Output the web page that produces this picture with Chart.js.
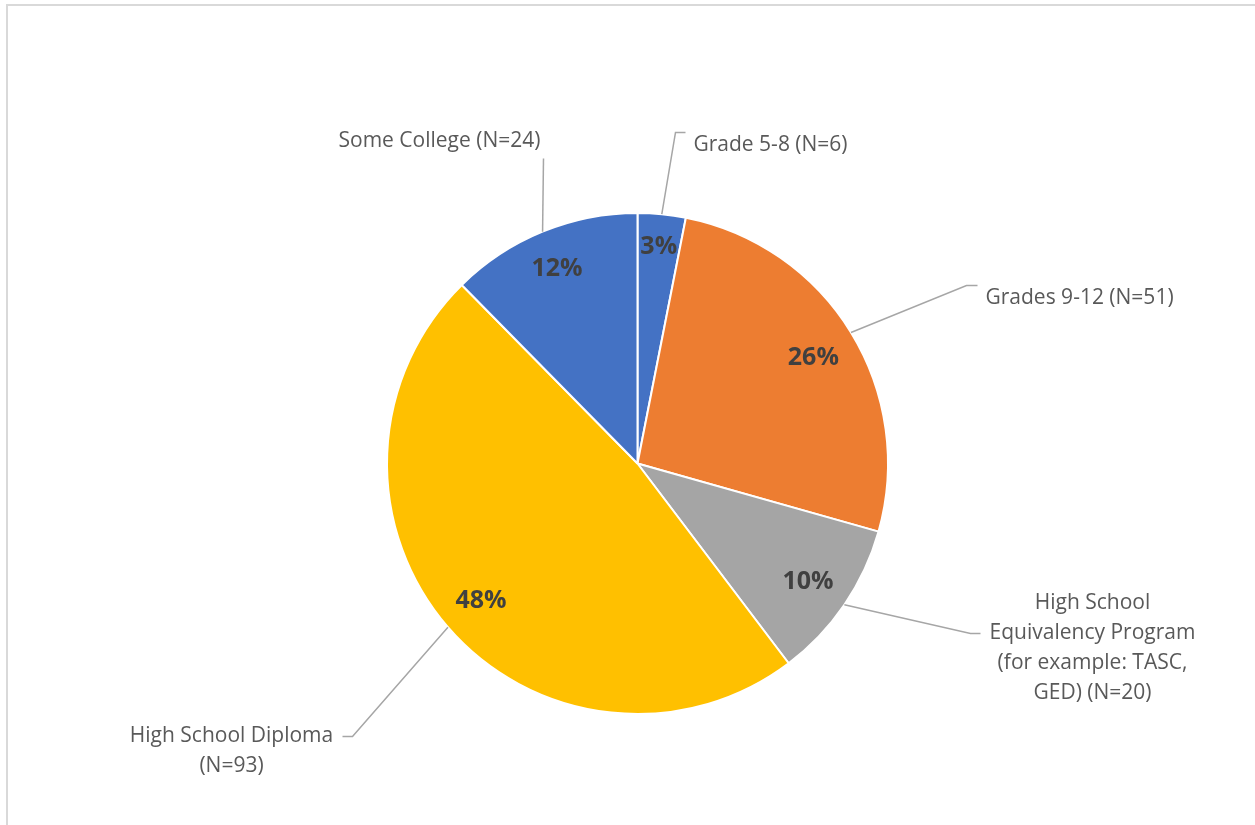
<!DOCTYPE html>
<html>
<head>
<meta charset="utf-8">
<title>Education level</title>
<script src="https://cdn.jsdelivr.net/npm/chart.js@4.4.1/dist/chart.umd.min.js"></script>
<style>
  html, body { margin: 0; padding: 0; background: #fff; overflow: hidden; }
  #wrap { position: relative; width: 1255px; height: 825px; }
  #frame {
    position: absolute; left: 6px; top: 4px; right: -10px; bottom: -10px;
    border-left: 2px solid #d9d9d9; border-top: 2px solid #d9d9d9;
  }
  canvas { position: absolute; left: 0; top: 0; }
</style>
</head>
<body>
<div id="wrap">
  <div id="frame"></div>
  <canvas id="pie" width="1255" height="825"></canvas>
</div>
<script>
const categories = ['Grade 5-8', 'Grades 9-12', 'High School Equivalency Program (for example: TASC, GED)', 'High School Diploma', 'Some College'];
const counts = [6, 51, 20, 93, 24];
const labelLines = [
  ['Grade 5-8 (N=6)'],
  ['Grades 9-12 (N=51)'],
  ['High School', 'Equivalency Program', '(for example: TASC,', 'GED) (N=20)'],
  ['High School Diploma', '(N=93)'],
  ['Some College (N=24)']
];
const sliceColors = ['#4472C4', '#ED7D31', '#A5A5A5', '#FFC000', '#4472C4'];

// where each outside label sits, relative to the pie centre:
// elbow = leader line bend points, text = anchor of first line
const calloutLayout = [
  { elbow: [[38, -331], [48, -331]], text: [56, -318], align: 'left' },
  { elbow: [[329, -178], [340, -178]], text: [348, -165], align: 'left' },
  { elbow: [[333, 170], [343, 170]], text: [455, 140], align: 'center' },
  { elbow: [[-285, 273], [-295, 273]], text: [-406, 273], align: 'center' },
  { elbow: [[-94, -305]], text: [-198, -322], align: 'center' }
];

const total = counts.reduce((a, b) => a + b, 0);

const pieLabels = {
  id: 'pieLabels',
  afterDatasetsDraw(chart) {
    const ctx = chart.ctx;
    const arcs = chart.getDatasetMeta(0).data;
    ctx.save();
    arcs.forEach((arc, i) => {
      const { x, y, startAngle, endAngle, outerRadius } = arc.getProps(['x', 'y', 'startAngle', 'endAngle', 'outerRadius'], true);
      const mid = (startAngle + endAngle) / 2;
      const ux = Math.cos(mid), uy = Math.sin(mid);

      // percentage pushed out until its box meets the rim (inside end)
      const pct = Math.round(counts[i] / total * 100) + '%';
      ctx.font = 'bold 25px "Open Sans"';
      const hw = ctx.measureText(pct).width / 2;
      const hh = 15;
      const r = outerRadius - 14.5 - (Math.abs(ux) * hw + Math.abs(uy) * hh);
      ctx.fillStyle = '#404040';
      ctx.textAlign = 'center';
      ctx.textBaseline = 'middle';
      ctx.fillText(pct, x + ux * r, y + uy * r + 2);

      // leader line from the slice edge
      const lay = calloutLayout[i];
      ctx.beginPath();
      ctx.moveTo(x + ux * outerRadius, y + uy * outerRadius);
      lay.elbow.forEach(p => ctx.lineTo(x + p[0], y + p[1]));
      ctx.strokeStyle = '#A6A6A6';
      ctx.lineWidth = 1.5;
      ctx.stroke();

      // category label
      ctx.font = '21px "Open Sans"';
      ctx.fillStyle = '#595959';
      ctx.textAlign = lay.align;
      labelLines[i].forEach((line, k) => {
        ctx.fillText(line, x + lay.text[0], y + lay.text[1] + k * 30);
      });
    });
    ctx.restore();
  }
};

new Chart(document.getElementById('pie'), {
  type: 'pie',
  data: {
    labels: categories,
    datasets: [{
      data: counts,
      backgroundColor: sliceColors,
      borderColor: '#ffffff',
      borderWidth: 2
    }]
  },
  options: {
    responsive: false,
    animation: false,
    layout: { padding: { left: 386, top: 212, right: 366, bottom: 110 } },
    plugins: {
      legend: { display: false },
      tooltip: { enabled: false }
    }
  },
  plugins: [pieLabels]
});
</script>
</body>
</html>
